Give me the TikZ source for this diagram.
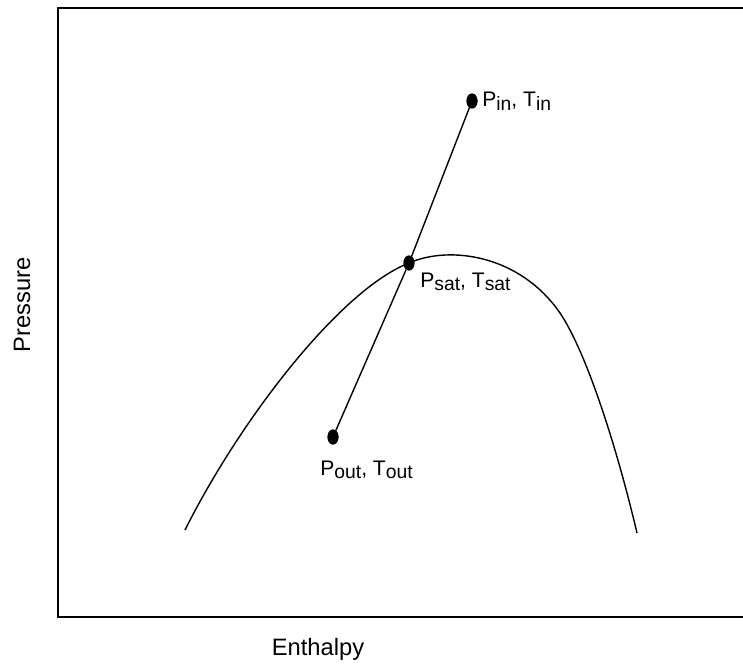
\documentclass[tikz,border=0pt]{standalone}
\usepackage{fontspec}
\setmainfont{Liberation Sans}
\usetikzlibrary{positioning,shapes.geometric}

% lowered, nearly full-size subscript as in the plot
\newcommand{\lowsub}[1]{\raisebox{-2pt}{\fontsize{11}{13}\selectfont #1}}

\begin{document}
\begin{tikzpicture}[
x=0.02cm,y=-0.02cm,
dot/.style={
ellipse,fill=black,draw=black,
inner sep=0pt,
minimum width=0.21cm,
minimum height=0.29cm
},
state/.style={
inner sep=0pt,
anchor=base west,
font=\fontsize{12}{14}\selectfont
},
axislabel/.style={
inner sep=0pt,
font=\fontsize{13.5}{16}\selectfont
},
frame/.style={line width=1pt},
process/.style={line width=0.8pt},
dome/.style={line width=0.8pt}
]

\useasboundingbox (0,0) rectangle (743,672);

% =======================
% FRAME + AXIS LABELS
% =======================

\coordinate (tr) at (743,8);
\coordinate (tl) at (58,8);
\coordinate (bl) at (58,617);
\coordinate (br) at (743,617);

\draw[frame] (tr) -- (tl) -- (bl) -- (br);

\node[axislabel,rotate=90] (ylab) at (22,305) {Pressure};
\node[axislabel] (xlab) at (318,649) {Enthalpy};

% =======================
% STATES
% =======================

\node[dot] (pin) at (472,101) {};
\node[dot] (psat) at (409,263) {};
\node[dot] (pout) at (333,437) {};

\node[state] (lin) at (482,107)
{P\lowsub{in}, T\lowsub{in}};

\node[state] (lsat) at (420,287)
{P\lowsub{sat}, T\lowsub{sat}};

\node[state] (lout) at (320,475)
{P\lowsub{out}, T\lowsub{out}};

% =======================
% SATURATION DOME
% =======================

\coordinate (left) at (185,530);
\coordinate (shoulder) at (560,313);
\coordinate (right) at (637,533);

\draw[dome] (left) .. controls (240,420) and (340,290) .. (psat.center)
  .. controls (450,245) and (520,255) .. (shoulder)
  .. controls (585,350) and (615,440) .. (right);

% =======================
% PROCESS LINE
% =======================

\draw[process] (pin) -- (psat) -- (pout);

\end{tikzpicture}
\end{document}
